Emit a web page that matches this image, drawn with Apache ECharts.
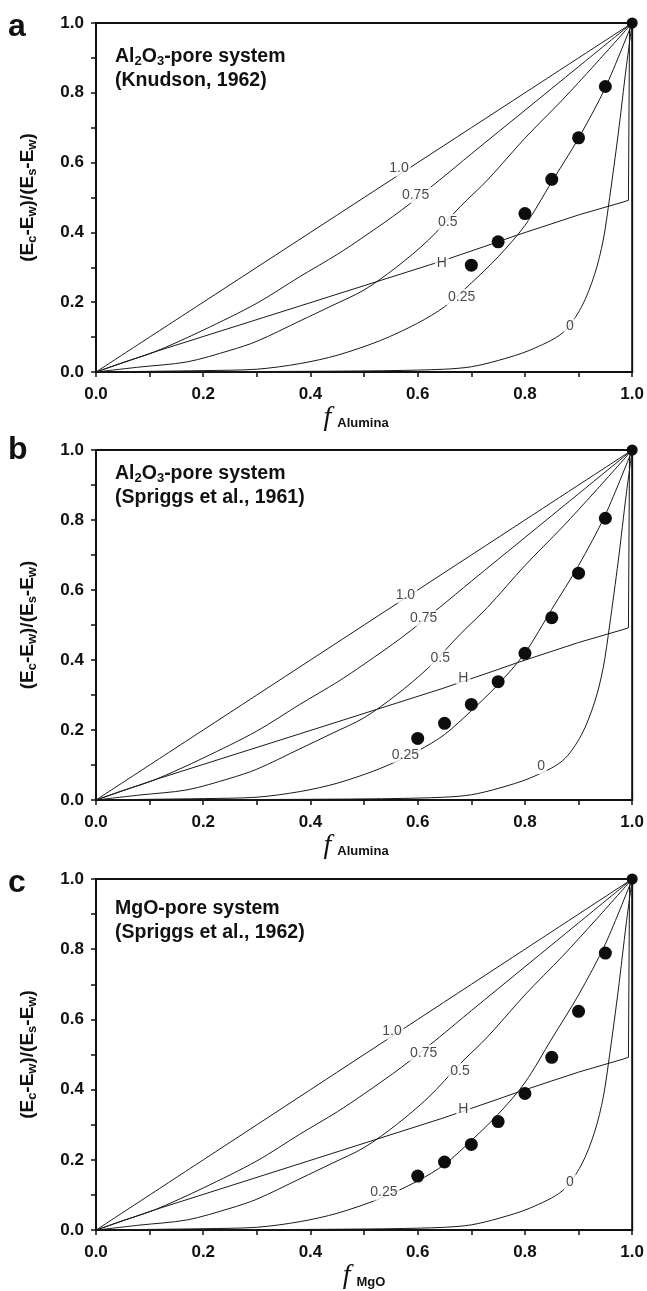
<!DOCTYPE html>
<html><head><meta charset="utf-8">
<script src="https://cdn.jsdelivr.net/npm/echarts@6/dist/echarts.min.js"></script>
<style>html,body{margin:0;padding:0;background:#fff}#chart{width:647px;height:1291px}</style>
</head><body><div id="chart"></div>
<script>
// ---- theoretical curves (shared by all panels): [f, (Ec-Ew)/(Es-Ew)] ----
const curve10  = [[0,0],[0.2,0.2],[0.4,0.4],[0.6,0.6],[0.8,0.8],[1,1]];
const curve075 = [[0,0],[0.05,0.027],[0.11,0.058],[0.2,0.12],[0.3,0.197],[0.38,0.273],[0.45,0.337],[0.5,0.388],[0.57,0.464],[0.64,0.549],[0.7,0.625],[0.8,0.75],[0.9,0.875],[1,1]];
const curve05  = [[0,0],[0.08,0.014],[0.17,0.029],[0.25,0.062],[0.3,0.088],[0.38,0.146],[0.44,0.19],[0.5,0.235],[0.56,0.3],[0.62,0.378],[0.68,0.475],[0.73,0.55],[0.8,0.67],[0.87,0.78],[0.93,0.88],[1,1]];
const curve025 = [[0,0],[0.1,0.002],[0.2,0.004],[0.3,0.008],[0.38,0.024],[0.45,0.048],[0.53,0.09],[0.6,0.14],[0.65,0.187],[0.7,0.255],[0.75,0.33],[0.8,0.42],[0.85,0.545],[0.9,0.67],[0.95,0.815],[1,1]];
const curve0   = [[0,0],[0.2,0.001],[0.4,0.002],[0.55,0.004],[0.65,0.008],[0.7,0.015],[0.75,0.033],[0.81,0.063],[0.87,0.112],[0.905,0.185],[0.93,0.28],[0.946,0.378],[0.958,0.5],[0.974,0.683],[0.989,0.874],[1,1]];
const curveH   = [[0,0],[0.11,0.058],[0.38,0.189],[0.645,0.318],[0.75,0.373],[0.785,0.392],[0.9,0.45],[0.983,0.487],[0.993,0.492],[0.995,0.98],[1,1]];

// ---- measured data ----
const knudsonF   = [0.70,0.75,0.80,0.85,0.90,0.95,1.0];
const knudsonV   = [0.306,0.373,0.454,0.552,0.671,0.818,1.0];
const spriggs61F = [0.60,0.65,0.70,0.75,0.80,0.85,0.90,0.95,1.0];
const spriggs61V = [0.176,0.219,0.273,0.338,0.419,0.521,0.648,0.805,1.0];
const spriggs62F = [0.60,0.65,0.70,0.75,0.80,0.85,0.90,0.95,1.0];
const spriggs62V = [0.154,0.194,0.244,0.309,0.389,0.492,0.623,0.789,1.0];

// ---- curve label anchors per panel [f, v, text] ----
const labelsA = [[0.565,0.583,'1.0'],[0.596,0.507,'0.75'],[0.656,0.43,'0.5'],[0.645,0.311,'H'],[0.682,0.215,'0.25'],[0.884,0.13,'0']];
const labelsB = [[0.577,0.586,'1.0'],[0.611,0.519,'0.75'],[0.642,0.405,'0.5'],[0.685,0.348,'H'],[0.577,0.129,'0.25'],[0.83,0.097,'0']];
const labelsC = [[0.552,0.566,'1.0'],[0.611,0.505,'0.75'],[0.679,0.453,'0.5'],[0.685,0.344,'H'],[0.537,0.107,'0.25'],[0.884,0.136,'0']];

const panelLetters = ['a','b','c'];
const panelTitles = [
  ['{b|Al}{s|2}{b|O}{s|3}{b|-pore system}', '{b|(Knudson, 1962)}'],
  ['{b|Al}{s|2}{b|O}{s|3}{b|-pore system}', '{b|(Spriggs et al., 1961)}'],
  ['{b|MgO-pore system}', '{b|(Spriggs et al., 1962)}']
];
const xSubs = ['Alumina','Alumina','MgO'];

const panelData = [
  {f:knudsonF, v:knudsonV, labels:labelsA},
  {f:spriggs61F, v:spriggs61V, labels:labelsB},
  {f:spriggs62F, v:spriggs62V, labels:labelsC}
];

const grids = [
  {left:96, top:23, width:538, height:349},
  {left:96, top:450, width:538, height:350},
  {left:96, top:879, width:538, height:352}
];
const letterTops = [11, 434, 867];
const titleTops = [45, 462, 897];
const xNameShift = [16, 16, 0];

const FONT = 'Liberation Sans, Arial, sans-serif';
const INK = '#111';

const option = {
  animation:false,
  backgroundColor:'#fff',
  grid: grids.map(g => Object.assign({show:true, borderColor:INK, borderWidth:2, backgroundColor:'transparent'}, g)),
  title: [],
  xAxis: [], yAxis: [], series: []
};

for (let i=0;i<3;i++){
  option.title.push({text:panelLetters[i], left:8, top:letterTops[i], padding:0,
    textStyle:{fontFamily:FONT, fontWeight:'bold', fontSize:32, color:INK}});
  option.title.push({text:panelTitles[i].join('\n'), left:115, top:titleTops[i], padding:0,
    textStyle:{rich:{
      b:{fontFamily:FONT, fontWeight:'bold', fontSize:19.5, color:INK, lineHeight:24},
      s:{fontFamily:FONT, fontWeight:'bold', fontSize:13, color:INK, lineHeight:24, padding:[8,0,0,0]}
    }}});
  const axisCommon = {
    min:0, max:1, interval:0.2, gridIndex:i,
    axisLine:{show:true, onZero:false, lineStyle:{color:INK, width:2}},
    axisTick:{show:true, length:5, inside:false, lineStyle:{color:INK, width:1.5}},
    minorTick:{show:true, splitNumber:2, length:5, lineStyle:{color:INK, width:1.5}},
    splitLine:{show:false}, minorSplitLine:{show:false},
    axisLabel:{formatter:v=>v.toFixed(1), fontFamily:FONT, fontWeight:'bold', fontSize:17, color:INK}
  };
  option.xAxis.push(Object.assign({}, axisCommon, {
    type:'value', axisLabel:Object.assign({}, axisCommon.axisLabel, {margin:14}),
    name:'{f|f}{s|' + xSubs[i] + '}', nameLocation:'middle', nameGap:29,
    nameTextStyle:{padding:[0, xNameShift[i], 0, 0], rich:{
      f:{fontFamily:'Liberation Serif, serif', fontStyle:'italic', fontSize:28, color:INK, padding:[0,6,0,0]},
      s:{fontFamily:FONT, fontWeight:'bold', fontSize:13, color:INK, padding:[12,0,0,0]}
    }}
  }));
  option.yAxis.push(Object.assign({}, axisCommon, {
    type:'value', axisLabel:Object.assign({}, axisCommon.axisLabel, {margin:12}),
    name:'{p|(E}{s|c}{p|-E}{s|w}{p|)/(E}{s|s}{p|-E}{s|w}{p|)}', nameLocation:'middle', nameGap:57, nameRotate:90,
    nameTextStyle:{rich:{
      p:{fontFamily:FONT, fontWeight:'bold', fontSize:19, color:INK},
      s:{fontFamily:FONT, fontWeight:'bold', fontSize:13, color:INK, padding:[10,0,0,0]}
    }}
  }));
  const curves = [curve10, curve075, curve05, curve025, curve0];
  curves.forEach(c => option.series.push({
    type:'line', xAxisIndex:i, yAxisIndex:i, data:c, showSymbol:false, symbol:'none',
    smooth:0.3, lineStyle:{color:'#1a1a1a', width:1}, z:2, silent:true
  }));
  option.series.push({
    type:'line', xAxisIndex:i, yAxisIndex:i, data:curveH, showSymbol:false, symbol:'none',
    smooth:false, lineStyle:{color:'#1a1a1a', width:1}, z:2, silent:true
  });
  const pd = panelData[i];
  option.series.push({
    type:'scatter', xAxisIndex:i, yAxisIndex:i,
    data: pd.f.map((f,k)=>[f, pd.v[k]]),
    symbolSize:(val)=> val[0]===1 ? 11 : 13,
    itemStyle:{color:'#0d0d0d', opacity:1}, z:5, silent:true
  });
  option.series.push({
    type:'scatter', xAxisIndex:i, yAxisIndex:i,
    data: pd.labels, symbolSize:0, z:4, silent:true,
    label:{show:true, position:'inside', formatter:p=>p.value[2], fontFamily:FONT, fontSize:14,
      color:'#1a1a1a', backgroundColor:'#fff', padding:[1,2,1,2]}
  });
}

const chart = echarts.init(document.getElementById('chart'), null, {renderer:'canvas'});
chart.setOption(option);
</script>
</body></html>
